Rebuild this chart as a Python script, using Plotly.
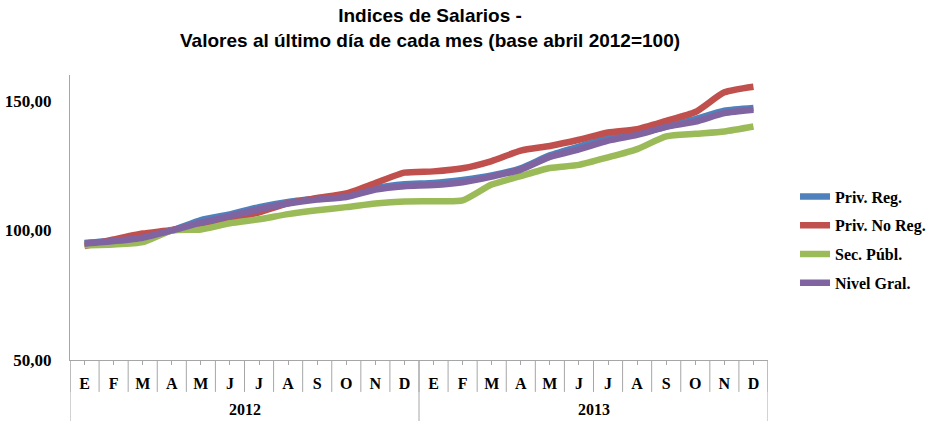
import plotly.graph_objects as go

months = ["E", "F", "M", "A", "M", "J", "J", "A", "S", "O", "N", "D",
          "E", "F", "M", "A", "M", "J", "J", "A", "S", "O", "N", "D"]
years = ["2012", "2013"]
y_ticks = [50, 100, 150]
y_ticklabels = ["50,00", "100,00", "150,00"]

priv_reg = [95.2, 96.0, 97.5, 100.0, 104.0, 106.2, 109.0, 111.0, 112.3, 113.5, 116.3, 117.8,
            118.3, 119.5, 121.2, 124.0, 129.0, 132.4, 135.5, 137.3, 140.1, 143.0, 146.2, 147.3]
priv_no_reg = [94.0, 96.5, 98.8, 100.2, 102.3, 104.5, 107.0, 110.5, 112.5, 114.3, 118.3, 122.3,
               122.8, 124.0, 126.8, 130.8, 132.6, 135.0, 137.8, 139.1, 142.3, 145.7, 153.3, 155.5]
sec_publ = [94.3, 94.6, 95.5, 100.0, 100.4, 102.8, 104.3, 106.3, 107.8, 109.0, 110.4, 111.2,
            111.3, 111.6, 117.7, 121.0, 124.1, 125.3, 128.2, 131.4, 136.3, 137.3, 138.2, 140.1]
nivel_gral = [94.9, 95.9, 97.2, 100.0, 103.0, 105.5, 108.2, 110.4, 111.9, 112.9, 115.8, 117.1,
              117.5, 118.6, 120.8, 123.5, 128.4, 131.3, 134.7, 136.9, 140.0, 142.0, 145.3, 146.6]

series = [
    ("Priv. Reg.", priv_reg, "#4F81BD"),
    ("Priv. No Reg.", priv_no_reg, "#C0504D"),
    ("Sec. Públ.", sec_publ, "#9BBB59"),
    ("Nivel Gral.", nivel_gral, "#8064A2"),
]

x = list(range(len(months)))
fig = go.Figure()
for i, (name, vals, color) in enumerate(series):
    fig.add_trace(go.Scatter(
        x=x, y=vals, name=name, mode="lines",
        line=dict(color=color, width=6.5, shape="spline", smoothing=0.6),
        legendgroup=f"g{i}",
    ))

AX = "#A6A6A6"
serif = "Liberation Serif, Times New Roman, serif"

fig.update_layout(
    width=931, height=421,
    margin=dict(l=70, r=163, t=75, b=61, autoexpand=False),
    paper_bgcolor="white", plot_bgcolor="white",
    showlegend=True,
    legend=dict(
        x=1.0387, xanchor="left", y=0.421, yanchor="middle",
        font=dict(family=serif, size=16, color="black", weight="bold"),
        tracegroupgap=5, bgcolor="rgba(0,0,0,0)",
    ),
    xaxis=dict(
        range=[-0.5, len(months) - 0.5],
        tickmode="array", tickvals=x, ticktext=months,
        tickfont=dict(family=serif, size=16, color="black", weight="bold"),
        ticks="outside", ticklen=4, tickcolor=AX,
        showline=True, linecolor=AX, linewidth=1, automargin=False,
        showgrid=False, zeroline=False, ticklabelstandoff=5,
    ),
    yaxis=dict(
        range=[50, 160],
        tickmode="array", tickvals=y_ticks, ticktext=y_ticklabels,
        tickfont=dict(family=serif, size=17, color="black", weight="bold"),
        showline=True, linecolor=AX, linewidth=1, automargin=False,
        showgrid=False, zeroline=False, ticks="", ticklabelstandoff=14,
    ),
)

# title as a two-line annotation
fig.add_annotation(
    text="Indices de Salarios -<br>Valores al último día de cada mes (base abril 2012=100)",
    xref="paper", yref="paper", x=(429.5 - 70) / 698, y=(360 - 3) / 285,
    xanchor="center", yanchor="top", showarrow=False, align="center",
    font=dict(family="Liberation Sans, Arial, sans-serif", size=19, color="black", weight="bold"),
)

# category separators (month row) and year separators
shapes = []
for b in range(len(months) + 1):
    shapes.append(dict(type="line", xref="x", yref="paper", x0=b - 0.5, x1=b - 0.5,
                       y0=0, y1=-0.112, line=dict(color=AX, width=1)))
for b in [0, 12, 24]:
    shapes.append(dict(type="line", xref="x", yref="paper", x0=b - 0.5, x1=b - 0.5,
                       y0=0, y1=-0.22, line=dict(color=AX, width=1)))
fig.update_layout(shapes=shapes)

for k, yr in enumerate(years):
    fig.add_annotation(x=5.5 + 12 * k, y=-0.175, xref="x", yref="paper",
                       text=yr, showarrow=False,
                       font=dict(family=serif, size=16, color="black", weight="bold"),
                       xanchor="center", yanchor="middle")

fig.write_html("out.html", config={"displayModeBar": False},
               post_script="document.body.style.margin='0px';")
